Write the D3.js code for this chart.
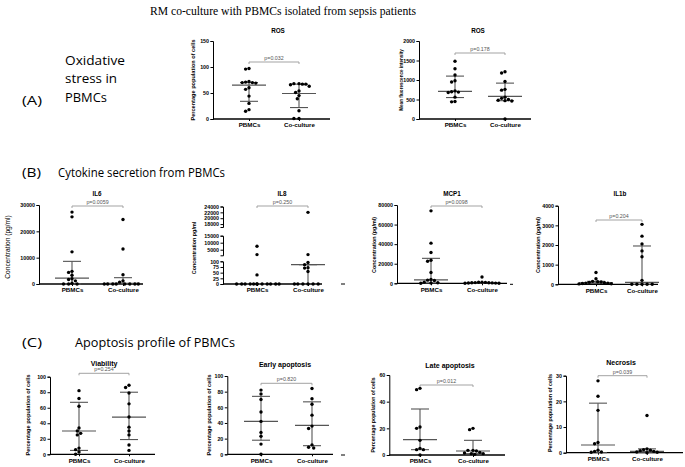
<!DOCTYPE html>
<html>
<head>
<meta charset="utf-8">
<script src="https://cdn.jsdelivr.net/npm/d3@7"></script>
<style>
  body { margin: 0; background: #fff; }
  svg { display: block; }
  .tick text { font-family: "Liberation Sans", Arial, sans-serif; font-weight: bold; }
</style>
</head>
<body>
<div id="chart"></div>
<script>
// groups shared by every panel
var groups = ["PBMCs", "Co-culture"];

// ROS, percentage population of cells
var rosPctPoints = [[97, 96, 72, 71, 70, 70, 69, 60, 57, 44, 30, 18, 15],
                    [68, 68, 67, 67, 66, 63, 54, 51, 45, 39, 16, 1, 1]];
var rosPctIqr = [[34, 65, 70], [22, 49, 67]];   // lower, median, upper
var rosPctTicks = [0, 50, 100, 150];

// ROS, mean fluorescence intensity
var rosMfiPoints = [[1480, 1290, 1130, 980, 950, 720, 700, 690, 680, 560, 450, 440],
                    [1210, 1180, 960, 760, 740, 560, 530, 500, 480, 470, 460, 0]];
var rosMfiIqr = [[550, 710, 1100], [470, 580, 920]];
var rosMfiTicks = [0, 500, 1000, 1500, 2000];

// IL6
var il6Points = [[27300, 25500, 12200, 4800, 4400, 3300, 2000, 1700, 1200, 300, 0, 0, 0],
                 [24500, 13300, 3500, 1200, 700, 0, 0, 0, 0, 0, 0, 0, 0]];
var il6Iqr = [[0, 2200, 8600], [0, 200, 2400]];
var il6Ticks = [0, 10000, 20000, 30000];

// IL8 (broken axis)
var il8Points = [[7500, 1500, 40, 0, 0, 0, 0, 0, 0, 0, 0, 0, 0, 0, 0],
                 [22000, 1500, 95, 85, 72, 70, 55, 0, 0, 0, 0, 0, 0]];
var il8Iqr = [[0, 0, 0], [0, 85, 85]];
var il8TicksTop = [18000, 20000, 22000, 24000];
var il8TicksMid = [5000, 10000, 15000];
var il8TicksLow = [0, 25, 50, 75, 100];

// MCP1
var mcp1Points = [[74000, 41000, 31500, 23500, 22500, 11000, 4000, 3200, 2800, 1200, 600, 300, 0],
                  [6500, 1200, 1000, 900, 700, 600, 500, 400, 300, 200, 100, 0]];
var mcp1Iqr = [[300, 3500, 25500], [100, 300, 700]];
var mcp1Ticks = [0, 20000, 40000, 60000, 80000];

// IL1b
var il1bPoints = [[600, 280, 150, 130, 120, 100, 80, 60, 50, 40, 30, 20],
                  [3050, 2450, 2050, 1700, 1400, 200, 0, 0, 0, 0, 0]];
var il1bIqr = [[40, 80, 150], [0, 100, 1950]];
var il1bTicks = [0, 1000, 2000, 3000, 4000];

// apoptosis profile
var viabPoints = [[82, 72, 62, 34, 30, 27, 25, 8, 6, 3, 0],
                  [89, 86, 79, 65, 48, 35, 30, 25, 12, 5]];
var viabIqr = [[5, 30, 67], [19, 48, 80]];
var earlyPoints = [[82, 77, 70, 54, 42, 28, 23, 13, 0],
                   [84, 71, 64, 50, 36, 33, 12, 9, 8]];
var earlyIqr = [[18, 42, 74], [11, 37, 67]];
var pctTicks = [0, 20, 40, 60, 80, 100];
var latePoints = [[50, 49, 21, 20, 11, 5, 4, 4, 0],
                  [20, 19, 3.5, 3.5, 3, 2, 1.5, 1, 1, 0.5]];
var lateIqr = [[4, 11.5, 34.5], [1, 3, 11]];
var lateTicks = [0, 20, 40, 60];
var necPoints = [[28, 22, 16.5, 4, 3.5, 1, 0.5, 0.3, 0.2],
                 [14.5, 1.5, 1.2, 1, 0.8, 0.5, 0.3, 0.2, 0]];
var necIqr = [[0, 3, 19.3], [0, 0.5, 1.5]];
var necTicks = [0, 10, 20, 30];

var svgWidth = 685;
var svgHeight = 467;

var svg = d3.select("#chart")
  .append("svg")
  .attr("width", svgWidth)
  .attr("height", svgHeight);

var sansFont = "Liberation Sans, Arial, sans-serif";
var lineColor = "#555";

// panel layout (positions only, values come from the arrays above)
var panels = [
  { title: "ROS", tx: 278, ty: 33, points: rosPctPoints, iqr: rosPctIqr, p: "p=0.032", py: 62,
    yx: 213, top: 41, bottom: 119, cats: [249, 299], xEnd: 330,
    segs: [{ domain: [0, 150], range: [119, 41], ticks: rosPctTicks }],
    ylab: "Percentage population of cells", lx: 195, ly: 80, lsize: 5.6 },
  { title: "ROS", tx: 478, ty: 33, points: rosMfiPoints, iqr: rosMfiIqr, p: "p=0.178", py: 53,
    yx: 419, top: 41, bottom: 119, cats: [455, 505], xEnd: 531,
    segs: [{ domain: [0, 2000], range: [119, 41], ticks: rosMfiTicks }],
    ylab: "Mean fluorescence intensity", lx: 403, ly: 80, lsize: 4.6 },
  { title: "IL6", tx: 97, ty: 196, points: il6Points, iqr: il6Iqr, p: "p=0.0059", py: 206,
    yx: 39, top: 205, bottom: 284, cats: [72, 123], xEnd: 143,
    segs: [{ domain: [0, 30000], range: [284, 205], ticks: il6Ticks }],
    ylab: "Concentration (pg/ml)", lx: 10, ly: 247, lsize: 6.6, lweight: "normal" },
  { title: "IL8", tx: 282, ty: 196, points: il8Points, iqr: il8Iqr, p: "p=0.250", py: 206,
    yx: 223, top: 206, bottom: 284, cats: [257, 308], xEnd: 322,
    segs: [{ domain: [17000, 24000], range: [227, 206.5], ticks: il8TicksTop },
           { domain: [1000, 15000], range: [255.3, 235.7], ticks: il8TicksMid },
           { domain: [0, 100], range: [284, 261.3], ticks: il8TicksLow }],
    ylab: "Concentration pg/ml", lx: 196, ly: 248, lsize: 5.4 },
  { title: "MCP1", tx: 452, ty: 196, points: mcp1Points, iqr: mcp1Iqr, p: "p=0.0098", py: 206,
    yx: 397, top: 205, bottom: 283.3, cats: [431, 482], xEnd: 507,
    segs: [{ domain: [0, 80000], range: [283.3, 205], ticks: mcp1Ticks }],
    ylab: "Concentration (pg/ml)", lx: 376, ly: 245, lsize: 5.4 },
  { title: "IL1b", tx: 620, ty: 196, points: il1bPoints, iqr: il1bIqr, p: "p=0.204", py: 220,
    yx: 558, top: 205.7, bottom: 284.3, cats: [596, 642], xEnd: 658,
    segs: [{ domain: [0, 4000], range: [284.3, 205.7], ticks: il1bTicks }],
    ylab: "Concentration (pg/ml)", lx: 540, ly: 245, lsize: 5.4 },
  { title: "Viability", tx: 104, ty: 366, points: viabPoints, iqr: viabIqr, p: "p=0.254", py: 373.3,
    yx: 50, top: 376.7, bottom: 454.3, cats: [79, 129], xEnd: 155,
    segs: [{ domain: [0, 100], range: [454.3, 376.7], ticks: pctTicks }],
    ylab: "Percentage population of cells", lx: 30, ly: 415, lsize: 5.6 },
  { title: "Early apoptosis", tx: 285, ty: 367, points: earlyPoints, iqr: earlyIqr, p: "p=0.820", py: 383.3,
    yx: 227.3, top: 376, bottom: 454.3, cats: [261, 312], xEnd: 333,
    segs: [{ domain: [0, 100], range: [454.3, 376], ticks: pctTicks }],
    ylab: "Percentage population of cells", lx: 211, ly: 415, lsize: 5.6 },
  { title: "Late apoptosis", tx: 450, ty: 368, points: latePoints, iqr: lateIqr, p: "p=0.012", py: 385,
    yx: 389.3, top: 375, bottom: 455, cats: [420, 473], xEnd: 505,
    segs: [{ domain: [0, 60], range: [455, 375], ticks: lateTicks }],
    ylab: "Percentage population of cells", lx: 375, ly: 415, lsize: 5.2 },
  { title: "Necrosis", tx: 621, ty: 365, points: necPoints, iqr: necIqr, p: "p=0.039", py: 375.7,
    yx: 566, top: 375.7, bottom: 452.7, cats: [598, 647], xEnd: 683,
    segs: [{ domain: [0, 30], range: [452.7, 375.7], ticks: necTicks }],
    ylab: "Percentage population of cells", lx: 552, ly: 413, lsize: 5.4 }
];

// spread overlapping points sideways like a GraphPad scatter
function swarm(values, yOf, cx) {
  var d = 3.4;
  var placed = [];
  values.slice().sort(function(a, b) { return b - a; }).forEach(function(v) {
    var y = yOf(v);
    var offs = [0];
    for (var k = 1; k < 14; k++) { offs.push(-k * d / 2, k * d / 2); }
    var best = 0;
    for (var i = 0; i < offs.length; i++) {
      var ok = placed.every(function(p) {
        var dx = p.x - (cx + offs[i]), dy = p.y - y;
        return dx * dx + dy * dy >= d * d;
      });
      if (ok) { best = offs[i]; break; }
    }
    placed.push({ x: cx + best, y: y });
  });
  return placed;
}

function drawPanel(cfg) {
  var g = svg.append("g");

  var x = d3.scalePoint().domain(groups).range(cfg.cats);
  var scales = cfg.segs.map(function(s) {
    return d3.scaleLinear().domain(s.domain).range(s.range);
  });
  function yOf(v) {
    for (var i = 0; i < cfg.segs.length; i++) {
      var dm = cfg.segs[i].domain;
      if (v >= dm[0] && v <= dm[1]) return scales[i](v);
    }
    for (var j = cfg.segs.length - 1; j >= 0; j--) {
      if (v > cfg.segs[j].domain[1]) continue;
      return scales[j](cfg.segs[j].domain[0]);
    }
    return scales[0](cfg.segs[0].domain[1]);
  }

  // y axis (one piece per segment)
  cfg.segs.forEach(function(s, i) {
    var ax = g.append("g")
      .attr("transform", `translate(${cfg.yx},0)`)
      .call(d3.axisLeft(scales[i]).tickValues(s.ticks).tickFormat(d3.format("d"))
        .tickSize(2.5).tickSizeOuter(2.5).tickPadding(1.5));
    ax.selectAll("text").style("font-size", "5.3px").attr("fill", "#000");
    ax.select(".domain").attr("stroke", "#000").attr("stroke-width", 1);
    ax.selectAll(".tick line").attr("stroke", "#000");
  });

  // x axis
  g.append("line")
    .attr("x1", cfg.yx).attr("x2", cfg.xEnd)
    .attr("y1", cfg.bottom).attr("y2", cfg.bottom)
    .attr("stroke", "#000").attr("stroke-width", 1.3);
  var xa = g.append("g")
    .attr("transform", `translate(0,${cfg.bottom})`)
    .call(d3.axisBottom(x).tickSize(2).tickSizeOuter(0).tickPadding(2));
  xa.select(".domain").remove();
  xa.selectAll(".tick line").attr("stroke", "#000");
  xa.selectAll("text").style("font-size", "6.2px").attr("fill", "#000");

  // title
  g.append("text")
    .attr("x", cfg.tx).attr("y", cfg.ty)
    .attr("text-anchor", "middle")
    .style("font-family", sansFont).style("font-weight", "bold")
    .style("font-size", cfg.title.length > 4 ? "7px" : "6.3px")
    .text(cfg.title);

  // y label
  g.append("text")
    .attr("transform", `translate(${cfg.lx},${cfg.ly}) rotate(-90)`)
    .attr("text-anchor", "middle")
    .style("font-family", sansFont).style("font-weight", cfg.lweight || "bold")
    .style("font-size", cfg.lsize + "px")
    .text(cfg.ylab);

  // median with interquartile range
  groups.forEach(function(grp, i) {
    var cx = x(grp);
    var st = cfg.iqr[i];
    g.append("line")
      .attr("x1", cx).attr("x2", cx)
      .attr("y1", yOf(st[0])).attr("y2", yOf(st[2]))
      .attr("stroke", lineColor).attr("stroke-width", 1.1);
    [st[0], st[2]].forEach(function(v) {
      g.append("line")
        .attr("x1", cx - 9).attr("x2", cx + 9)
        .attr("y1", yOf(v)).attr("y2", yOf(v))
        .attr("stroke", lineColor).attr("stroke-width", 1.1);
    });
    g.append("line")
      .attr("x1", cx - 17).attr("x2", cx + 17)
      .attr("y1", yOf(st[1])).attr("y2", yOf(st[1]))
      .attr("stroke", lineColor).attr("stroke-width", 1.2);
  });

  // points
  groups.forEach(function(grp, i) {
    var pts = swarm(cfg.points[i], yOf, x(grp));
    g.selectAll(null)
      .data(pts)
      .enter()
      .append("circle")
      .attr("cx", d => d.x)
      .attr("cy", d => d.y)
      .attr("r", 1.7)
      .attr("fill", "#000");
  });

  // p value bracket
  var x1 = x(groups[0]), x2 = x(groups[1]);
  g.append("path")
    .attr("d", `M${x1},${cfg.py + 2}V${cfg.py}H${x2}V${cfg.py + 2}`)
    .attr("fill", "none").attr("stroke", "#999").attr("stroke-width", 0.9);
  g.append("text")
    .attr("x", (x1 + x2) / 2).attr("y", cfg.py - 2)
    .attr("text-anchor", "middle")
    .style("font-family", sansFont).style("font-size", "5.3px")
    .attr("fill", "#555")
    .text(cfg.p);
}

panels.forEach(drawPanel);

// headings
svg.append("text")
  .attr("x", 283).attr("y", 15)
  .attr("text-anchor", "middle")
  .attr("textLength", 266).attr("lengthAdjust", "spacingAndGlyphs")
  .style("font-family", "Liberation Serif, DejaVu Serif, serif")
  .style("font-size", "13.5px")
  .text("RM co-culture with PBMCs isolated from sepsis patients");

var headFont = "Open Sans, Lato, sans-serif";
var heads = [
  { t: "(A)", x: 22, y: 104.5, w: 20 },
  { t: "Oxidative", x: 65, y: 64.5, w: 60 },
  { t: "stress in", x: 65, y: 83, w: 52 },
  { t: "PBMCs", x: 65, y: 101.5, w: 42 },
  { t: "(B)", x: 22, y: 176.5, w: 19 },
  { t: "Cytokine secretion from PBMCs", x: 58, y: 176.5, w: 167 },
  { t: "(C)", x: 22, y: 346.5, w: 20 },
  { t: "Apoptosis profile of PBMCs", x: 75, y: 346.5, w: 160 }
];
heads.forEach(function(h) {
  svg.append("text")
    .attr("x", h.x).attr("y", h.y)
    .attr("textLength", h.w).attr("lengthAdjust", "spacingAndGlyphs")
    .style("font-family", headFont).style("font-size", "12.5px")
    .text(h.t);
});

// stray edge marks left over from the cropped source figure
[[341, 345, 284], [510, 513, 284.3], [341, 345, 455]].forEach(function(m) {
  svg.append("line")
    .attr("x1", m[0]).attr("x2", m[1]).attr("y1", m[2]).attr("y2", m[2])
    .attr("stroke", "#000").attr("stroke-width", 1);
});
</script>
</body>
</html>
